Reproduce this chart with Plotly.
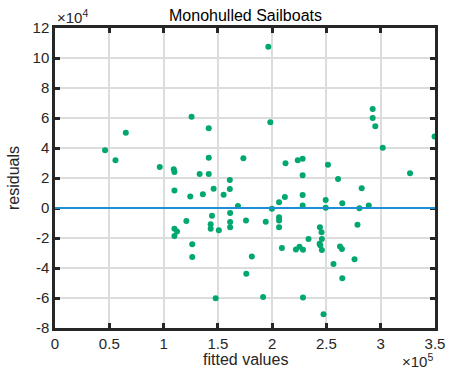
import plotly.graph_objects as go

fitted_e5 = [0.461, 0.557, 0.652, 0.965, 1.094, 1.10, 1.10, 1.10, 1.124, 1.10,
             1.21, 1.246, 1.258, 1.264, 1.264, 1.332, 1.362, 1.416, 1.416, 1.416,
             1.461, 1.446, 1.434, 1.434, 1.509, 1.48, 1.553, 1.61, 1.61, 1.613,
             1.613, 1.613, 1.685, 1.735, 1.759, 1.762, 1.813, 1.917, 1.941, 1.965,
             1.983, 1.998, 2.064, 2.064, 2.064, 2.064, 2.09, 2.117, 2.123, 2.219,
             2.236, 2.252, 2.281, 2.281, 2.281, 2.281, 2.284, 2.284, 2.335, 2.44,
             2.455, 2.458, 2.437, 2.443, 2.458, 2.473, 2.493, 2.493, 2.514, 2.565,
             2.607, 2.625, 2.643, 2.646, 2.646, 2.759, 2.786, 2.804, 2.825, 2.89,
             2.926, 2.926, 2.95, 3.019, 3.27, 3.496]
residuals_e4 = [3.85, 3.18, 5.02, 2.73, 2.58, 2.40, 1.17, -1.38, -1.56, -1.87,
                -0.87, 0.77, 6.08, -2.42, -3.27, 2.27, 0.91, 5.31, 3.35, 2.27,
                1.29, -0.51, -1.09, -1.38, -1.49, -6.02, 0.89, 1.87, 1.27, -0.33,
                -0.93, -1.29, 0.13, 3.31, -0.84, -4.38, -3.24, -5.93, -0.91, 10.75,
                5.71, -0.05, 0.38, -0.62, -0.84, -1.29, -2.67, 0.73, 2.98, -2.76,
                3.18, -2.58, 3.29, 2.18, 0.87, 0.16, -2.78, -5.96, -2.07, -1.29,
                -1.62, -2.07, -2.38, -2.49, -2.80, -7.09, 0.53, 0.01, 2.89, -3.73,
                1.93, -2.56, -2.73, 0.31, -4.69, -3.42, -1.11, -0.01, 1.31, 0.16,
                6.60, 6.00, 5.45, 4.02, 2.31, 4.76]

fitted = [v * 1e5 for v in fitted_e5]
residuals = [v * 1e4 for v in residuals_e4]

x_ticks = [0, 0.5, 1, 1.5, 2, 2.5, 3, 3.5]
x_tick_labels = ["0", "0.5", "1", "1.5", "2", "2.5", "3", "3.5"]
y_ticks = [-8, -6, -4, -2, 0, 2, 4, 6, 8, 10, 12]
y_tick_labels = ["-8", "-6", "-4", "-2", "0", "2", "4", "6", "8", "10", "12"]

FONT = "Liberation Sans, Arial, Helvetica, sans-serif"
INK = "#262626"
GRID = "#dcdcdc"

fig = go.Figure()
fig.add_trace(go.Scatter(
    x=fitted, y=residuals, mode="markers",
    marker=dict(color="#00A76E", size=6, line=dict(width=0)),
    showlegend=False, hoverinfo="skip"))

fig.add_hline(y=0, line=dict(color="#1E8FD0", width=2), layer="above")

axis_common = dict(
    showgrid=True, gridcolor=GRID, gridwidth=2,
    zeroline=False, showline=True, linecolor=INK, linewidth=2.5,
    mirror="allticks", ticks="inside", ticklen=5, tickwidth=2.5, tickcolor=INK,
    tickfont=dict(family=FONT, size=15, color=INK),
)

fig.update_xaxes(range=[0, 3.5e5], tickvals=[v * 1e5 for v in x_ticks],
                 ticktext=x_tick_labels, **axis_common)
fig.update_yaxes(range=[-8e4, 12e4], tickvals=[v * 1e4 for v in y_ticks],
                 ticktext=y_tick_labels, **axis_common)

fig.update_layout(
    width=456, height=369,
    margin=dict(l=54.5, r=10.5, t=28, b=41, pad=0),
    plot_bgcolor="white", paper_bgcolor="white",
    font=dict(family=FONT, size=15, color=INK),
    showlegend=False,
)

fig.add_annotation(text="Monohulled Sailboats", x=0.5, y=1.0, xref="paper", yref="paper",
                   xanchor="center", yanchor="middle", yshift=13, showarrow=False,
                   font=dict(family=FONT, size=16, color="#000000"))
fig.add_annotation(text="fitted values", x=0.5, y=0, xref="paper", yref="paper",
                   xanchor="center", yanchor="middle", yshift=-31, showarrow=False,
                   font=dict(family=FONT, size=16, color=INK))
fig.add_annotation(text="residuals", x=0, y=0.5, xref="paper", yref="paper",
                   xanchor="center", yanchor="middle", xshift=-42, textangle=-90,
                   showarrow=False, font=dict(family=FONT, size=16, color=INK))
fig.add_annotation(text="×10<sup>4</sup>", x=0, y=1.0, xref="paper", yref="paper",
                   xanchor="left", yanchor="bottom", yshift=0, showarrow=False,
                   font=dict(family=FONT, size=15, color=INK))
fig.add_annotation(text="×10<sup>5</sup>", x=1.0, y=0, xref="paper", yref="paper",
                   xanchor="right", yanchor="top", yshift=-21, showarrow=False,
                   font=dict(family=FONT, size=15, color=INK))

fig.write_html("out.html")
